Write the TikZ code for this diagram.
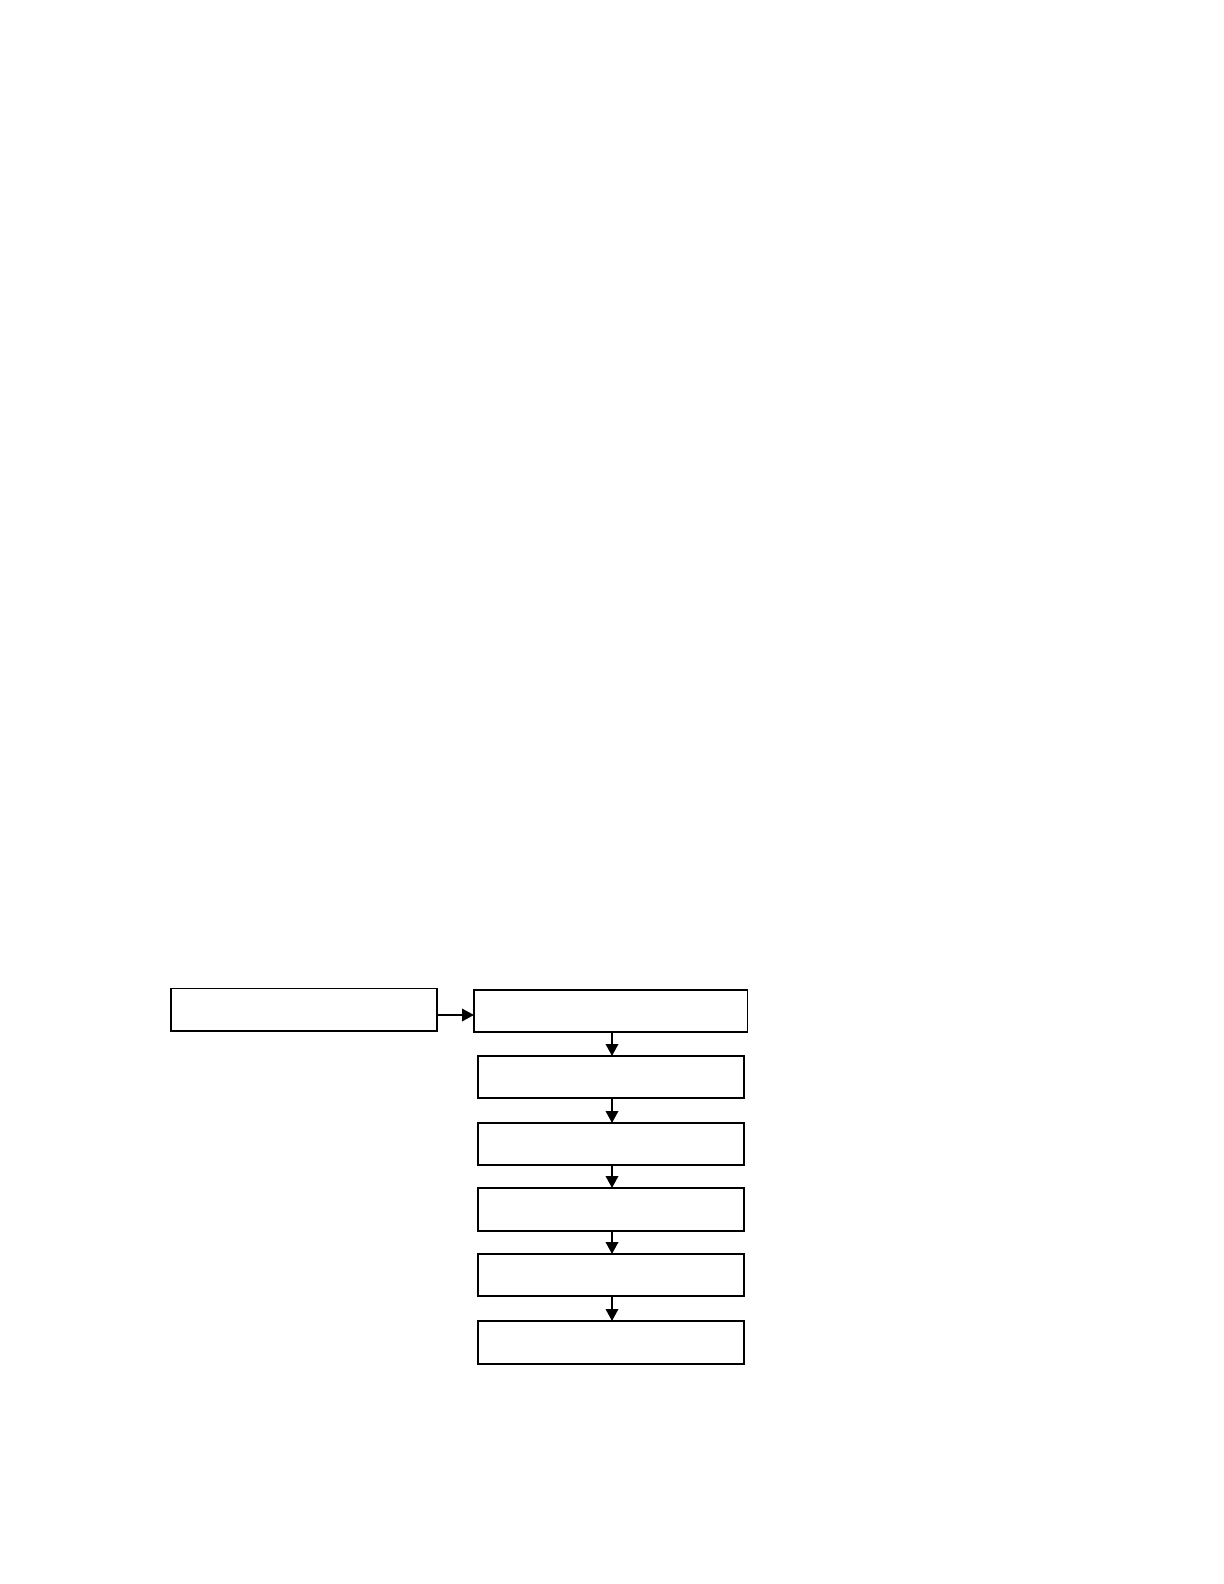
\documentclass[tikz,border=0pt]{standalone}
\usetikzlibrary{arrows.meta}
\tikzset{
  box/.style={draw=black, line width=0.55bp, inner sep=0pt, outer sep=0pt, fill=white},
  arr/.style={draw=black, line width=1.1bp, -{Triangle[length=6bp,width=6.2bp]}, shorten >=0pt},
}
\begin{document}
\begin{tikzpicture}[x=0.5bp, y=-0.5bp]
\useasboundingbox[fill=white] (0,0) rectangle (1224,1584);
\node[box, minimum width=133bp, minimum height=21.25bp] (b0) at (304,1009.75) {};
\node[box, minimum width=136.75bp, minimum height=21bp] (b1) at (610.75,1011) {};
\node[box, minimum width=133bp, minimum height=21bp] (b2) at (611,1077) {};
\node[box, minimum width=133bp, minimum height=21bp] (b3) at (611,1144) {};
\node[box, minimum width=133bp, minimum height=21.5bp] (b4) at (611,1209.5) {};
\node[box, minimum width=133bp, minimum height=21bp] (b5) at (611,1275) {};
\node[box, minimum width=133bp, minimum height=21.5bp] (b6) at (611,1342.5) {};
\draw[arr] (b0.east |- 0,1015) -- (b1.west |- 0,1015);
\draw[arr] (b1.south -| 612,0) -- (b2.north -| 612,0);
\draw[arr] (b2.south -| 612,0) -- (b3.north -| 612,0);
\draw[arr] (b3.south -| 612,0) -- (b4.north -| 612,0);
\draw[arr] (b4.south -| 612,0) -- (b5.north -| 612,0);
\draw[arr] (b5.south -| 612,0) -- (b6.north -| 612,0);
\end{tikzpicture}
\end{document}
